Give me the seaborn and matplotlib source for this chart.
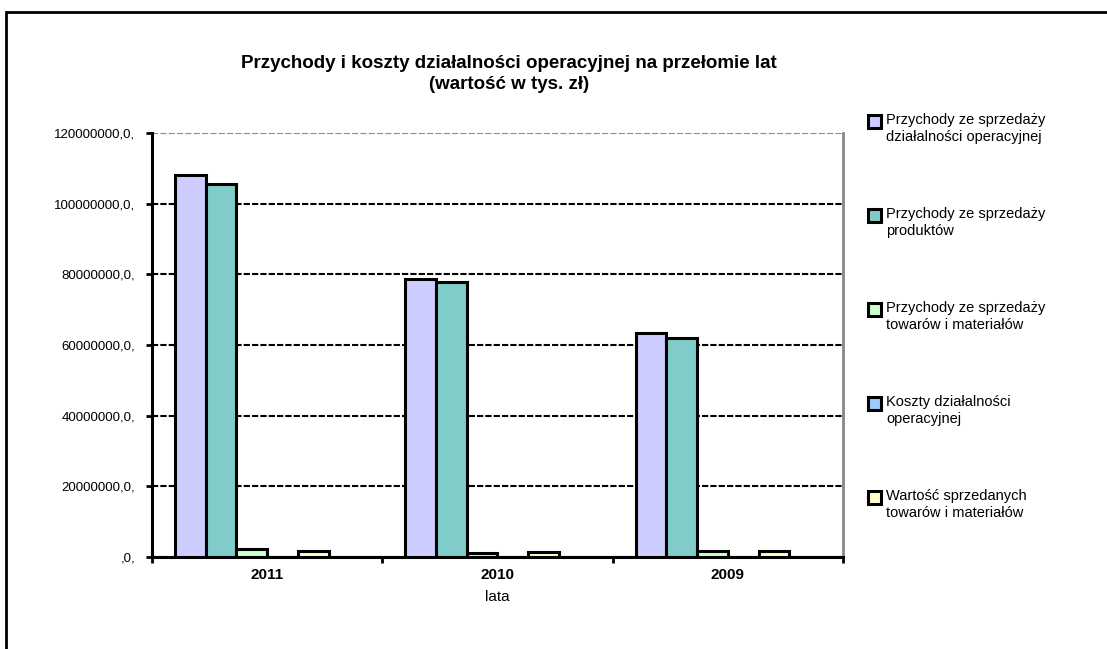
import numpy as np
import pandas as pd
import matplotlib
matplotlib.use("Agg")
import matplotlib.pyplot as plt
from matplotlib.patches import Rectangle
import seaborn as sns

# dane
lata = ["2011", "2010", "2009"]
serie = ["Przychody ze sprzedaży\ndziałalności operacyjnej",
         "Przychody ze sprzedaży\nproduktów",
         "Przychody ze sprzedaży\ntowarów i materiałów",
         "Koszty działalności\noperacyjnej",
         "Wartość sprzedanych\ntowarów i materiałów"]
przychody_dzial = [108100000, 78800000, 63400000]
przychody_prod = [105700000, 77700000, 62000000]
przychody_tow = [2300000, 1200000, 1800000]
koszty_dzial = [0, 0, 0]
wartosc_sprzed = [1800000, 1300000, 1800000]
pusta = [0, 0, 0]  # pusta seria w arkuszu (brak w legendzie)
kolory = ["#CCCCFF", "#80CCC8", "#CCFFCC", "#99CCFF", "#FFFFCC", "#FFFFFF"]
yticks = [0, 20000000, 40000000, 60000000, 80000000, 100000000, 120000000]
ylabels = [",0,", "20000000,0,", "40000000,0,", "60000000,0,",
           "80000000,0,", "100000000,0,", "120000000,0,"]

wartosci = [przychody_dzial, przychody_prod, przychody_tow, koszty_dzial, wartosc_sprzed, pusta]
nazwy = serie + ["_pusta"]
df = pd.DataFrame({
    "rok": lata * len(nazwy),
    "seria": np.repeat(nazwy, len(lata)),
    "wartosc": np.concatenate(wartosci),
})

sns.set_style("white")
plt.rcParams["font.family"] = ["Liberation Sans", "DejaVu Sans"]
plt.rcParams["text.color"] = "black"
plt.rcParams["axes.labelcolor"] = "black"
plt.rcParams["xtick.color"] = "black"
plt.rcParams["ytick.color"] = "black"

fig = plt.figure(figsize=(11.07, 6.49), dpi=100)
ax = fig.add_axes([152/1107, 1-557/649, (843-152)/1107, (557-133)/649])

sns.barplot(data=df, x="rok", y="wartosc", hue="seria", hue_order=nazwy, order=lata,
            palette=dict(zip(nazwy, kolory)), edgecolor="black", linewidth=2.2,
            width=0.8, saturation=1, legend=False, ax=ax, zorder=3)
# pusta seria - bez obramowania
for p in ax.containers[5]:
    p.set_visible(False)

ax.set_ylim(0, 120000000)
ax.set_xlim(-0.5, 2.5)
ax.set_yticks(yticks)
ax.set_yticklabels(ylabels, fontsize=9.5)
ax.tick_params(axis="y", length=4, width=2, pad=8, color="black", left=True)
ax.tick_params(axis="x", which="major", length=0, pad=8)
ax.set_xticks([-0.5, 0.5, 1.5, 2.5], minor=True)
ax.tick_params(axis="x", which="minor", length=4, width=2, color="black", bottom=True)
for t in ax.get_xticklabels():
    t.set_fontweight("bold")
    t.set_fontsize(11)

ax.grid(axis="y", color="black", linestyle=(0, (3, 1)), linewidth=1.5, zorder=0)
ax.set_axisbelow(True)
ax.get_ygridlines()[-1].set_color("#888888")
ax.spines["top"].set_visible(False)
ax.spines["right"].set_color("#888888")
ax.spines["right"].set_linewidth(2)
ax.spines["left"].set_linewidth(2.2)
ax.spines["bottom"].set_linewidth(2.2)
ax.spines["left"].set_color("black")
ax.spines["bottom"].set_color("black")
ax.set_ylabel("")
ax.set_xlabel("lata", fontsize=11, labelpad=6)

fig.text(509/1107, 1-74/649,
         "Przychody i koszty działalności operacyjnej na przełomie lat\n(wartość w tys. zł)",
         ha="center", va="center", fontsize=13.5, fontweight="bold", linespacing=1.3)

# legenda
y0 = 121
for i, (nazwa, kol) in enumerate(zip(serie, kolory)):
    y = y0 + i * 94
    fig.add_artist(Rectangle((868/1107, 1-(y+7)/649), 13/1107, 13/649,
                             transform=fig.transFigure, facecolor=kol,
                             edgecolor="black", linewidth=2.2))
    fig.text(886/1107, 1-(y-8)/649, nazwa, ha="left", va="top", fontsize=10.5,
             linespacing=1.3)

# ramka obszaru wykresu
fig.add_artist(Rectangle((6/1107, -0.1), 1.2, 1-12/649+0.1, transform=fig.transFigure,
                         fill=False, edgecolor="black", linewidth=2))

fig.savefig("out.png", dpi=100)
